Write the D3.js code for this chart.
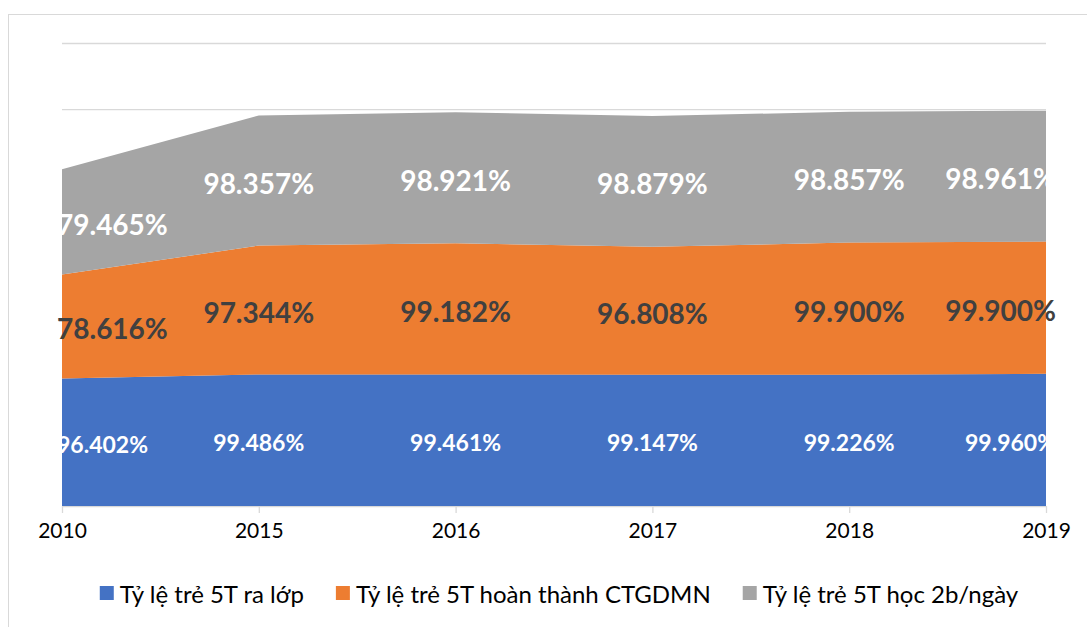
<!DOCTYPE html>
<html>
<head>
<meta charset="utf-8">
<script src="https://cdn.jsdelivr.net/npm/d3@7"></script>
<style>
  body { margin: 0; background: #fff; }
  svg { display: block; font-family: Lato, "Open Sans", sans-serif; }
</style>
</head>
<body>
<svg class="chart" width="1087" height="627"></svg>
<script>
var years = ["2010", "2015", "2016", "2017", "2018", "2019"];
var raLop = [96.402, 99.486, 99.461, 99.147, 99.226, 99.960];
var hoanThanh = [78.616, 97.344, 99.182, 96.808, 99.900, 99.900];
var hoc2b = [79.465, 98.357, 98.921, 98.879, 98.857, 98.961];
var seriesNames = ["Tỷ lệ trẻ 5T ra lớp", "Tỷ lệ trẻ 5T hoàn thành CTGDMN", "Tỷ lệ trẻ 5T học 2b/ngày"];
var yTicks = [0, 50, 100, 150, 200, 250, 300, 350];

var colors = ["#4472C4", "#ED7D31", "#A5A5A5"];
var labelColors = ["#ffffff", "#404040", "#ffffff"];
var labelSizes = [23, 28, 28];

// plot area edges (window.top is read-only, so no plain "top" here)
var plotLeft = 62, plotRight = 1046, plotTop = 43, plotBottom = 506;

var rows = years.map(function(y, i) {
	return { year: y, s0: raLop[i], s1: hoanThanh[i], s2: hoc2b[i] };
});

var stack = d3.stack().keys(["s0", "s1", "s2"]);
var layers = stack(rows);

var x = d3.scalePoint().domain(years).range([plotLeft, plotRight]);
var y = d3.scaleLinear().domain([0, 350]).range([plotBottom, plotTop]);

var chart = d3.select(".chart");

// chart frame (runs off the right and bottom edge like the original)
chart.append("rect")
	.attr("x", 8.5).attr("y", 14.5)
	.attr("width", 1100).attr("height", 640)
	.attr("fill", "none").attr("stroke", "#D9D9D9");

// gridlines
chart.append("g")
	.selectAll("line")
	.data(yTicks)
	.enter().append("line")
	.attr("x1", plotLeft).attr("x2", plotRight)
	.attr("y1", function(d) { return y(d) + 0.5; })
	.attr("y2", function(d) { return y(d) + 0.5; })
	.attr("stroke", "#D9D9D9")
	.attr("stroke-width", 1.3);

var area = d3.area()
	.x(function(d) { return x(d.data.year); })
	.y0(function(d) { return y(d[0]); })
	.y1(function(d) { return y(d[1]); });

chart.append("g")
	.selectAll("path")
	.data(layers)
	.enter().append("path")
	.attr("d", area)
	.attr("fill", function(d, i) { return colors[i]; });

// x axis
var xAxis = chart.append("g")
	.attr("transform", "translate(0," + plotBottom + ")")
	.call(d3.axisBottom(x).tickSize(7).tickPadding(10));
xAxis.select(".domain").attr("stroke", "#D9D9D9");
xAxis.selectAll(".tick line").attr("stroke", "#D9D9D9").attr("stroke-width", 1.3);
xAxis.selectAll(".tick text")
	.attr("fill", "#000")
	.style("font-size", "21px")
	.style("font-family", "Lato, sans-serif");

// data labels
layers.forEach(function(layer, si) {
	chart.append("g")
		.selectAll("text")
		.data(layer)
		.enter().append("text")
		.attr("x", function(d, i) {
			if (i === 0) return x(d.data.year) - 5;
			if (i === years.length - 1) return x(d.data.year) + 10;
			return x(d.data.year);
		})
		.attr("y", function(d) { return (y(d[0]) + y(d[1])) / 2 + 2; })
		.attr("text-anchor", function(d, i) {
			if (i === 0) return "start";
			if (i === years.length - 1) return "end";
			return "middle";
		})
		.attr("dominant-baseline", "central")
		.attr("fill", labelColors[si])
		.style("font-size", labelSizes[si] + "px")
		.style("font-weight", "bold")
		.text(function(d) { return (d[1] - d[0]).toFixed(3) + "%"; });
});

// legend
var legend = chart.append("g");
var items = legend.selectAll("g")
	.data(seriesNames)
	.enter().append("g");
items.append("rect")
	.attr("width", 14).attr("height", 14)
	.attr("y", -7)
	.attr("fill", function(d, i) { return colors[i]; });
items.append("text")
	.attr("x", 20)
	.attr("dominant-baseline", "central")
	.attr("fill", "#000")
	.style("font-size", "24px")
	.text(function(d) { return d; });

var pos = 0, offsets = [];
items.each(function(d, i) {
	offsets.push(pos);
	pos += 20 + this.querySelector("text").getComputedTextLength() + 32;
});
var total = pos - 32;
var startX = 559 - total / 2;
items.attr("transform", function(d, i) {
	return "translate(" + (startX + offsets[i]) + ",593)";
});
</script>
</body>
</html>
